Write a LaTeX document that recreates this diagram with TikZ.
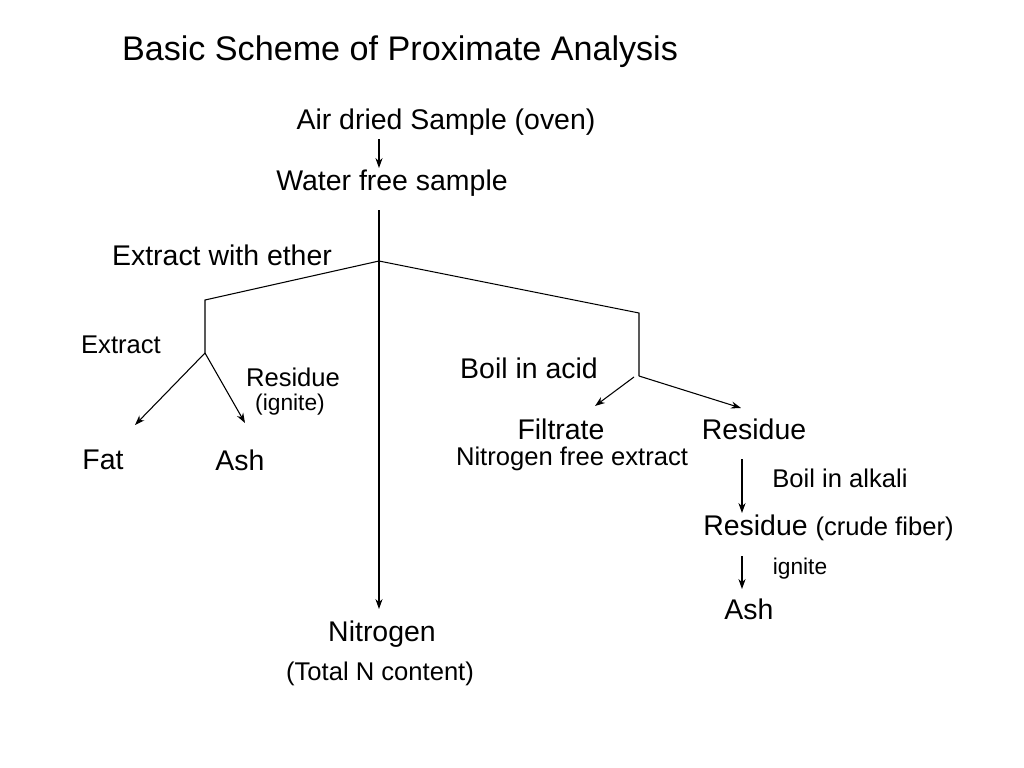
\documentclass[tikz,border=0pt]{standalone}
\usepackage{fontspec}
\setmainfont{Liberation Sans}
\usetikzlibrary{arrows.meta}
\begin{document}
\begin{tikzpicture}[x=0.703pt,y=-0.703pt,
  big/.style={font=\fontsize{20}{24}\selectfont, inner sep=0pt},
  mid/.style={font=\fontsize{18}{22}\selectfont, inner sep=0pt},
  small/.style={font=\fontsize{16}{19}\selectfont, inner sep=0pt},
  ttl/.style={font=\fontsize{24}{29}\selectfont, inner sep=0pt},
  ln/.style={line width=0.75pt},
  arr/.style={ln,-{Stealth[length=7pt,width=5pt]}}]
\useasboundingbox[fill=white] (0,0) rectangle (1024,768);
% texts
\node[ttl] (title) at (400,52) {Basic Scheme of Proximate Analysis};
\node[big] (air) at (446,122) {Air dried Sample (oven)};
\node[big] (water) at (392,183) {Water free sample};
\node[big] (ether) at (222,255) {Extract with ether};
\node[mid] (extract) at (121,345) {Extract};
\node[mid] (res1) at (293,377) {Residue};
\node[small] (ign1) at (290,405) {(ignite)};
\node[big] (fat) at (103,460) {Fat};
\node[big] (ash1) at (240,460) {Ash};
\node[big] (acid) at (529,368) {Boil in acid};
\node[big] (filtrate) at (561,429) {Filtrate};
\node[mid] (nfe) at (572,459) {Nitrogen free extract};
\node[big] (res2) at (754,429) {Residue};
\node[mid] (alkali) at (840,478) {Boil in alkali};
\node[big,anchor=west] (res3) at (703,528) {Residue {\fontsize{18}{22}\selectfont(crude fiber)}};
\node[small] (ign2) at (800,569) {ignite};
\node[big] (ash2) at (749,609) {Ash};
\node[big] (nitro) at (382,634) {Nitrogen};
\node[mid] (totn) at (380,674) {(Total N content)};
% junctions
\coordinate (a1) at (379,139);
\coordinate (a2) at (379,168);
\coordinate (v1) at (379,210);
\coordinate (br) at (379,261);
\coordinate (n2) at (379,609);
\coordinate (l1) at (205,300);
\coordinate (l2) at (205,353);
\coordinate (lf) at (135,425);
\coordinate (la) at (245,423);
\coordinate (r1) at (639,313);
\coordinate (r2) at (639,376);
\coordinate (r2b) at (634,377);
\coordinate (rf) at (595,406);
\coordinate (rr) at (741,408);
\coordinate (b1) at (742,459);
\coordinate (b2) at (742,513);
\coordinate (c1) at (742,556);
\coordinate (c2) at (742,589);
% connectors
\draw[arr] (a1) -- (a2);
\draw[arr] (v1) -- (n2);
\draw[ln] (l2) -- (l1) -- (br) -- (r1) -- (r2);
\draw[arr] (l2) -- (lf);
\draw[arr] (l2) -- (la);
\draw[arr] (r2b) -- (rf);
\draw[arr] (r2) -- (rr);
\draw[arr] (b1) -- (b2);
\draw[arr] (c1) -- (c2);
\end{tikzpicture}
\end{document}
